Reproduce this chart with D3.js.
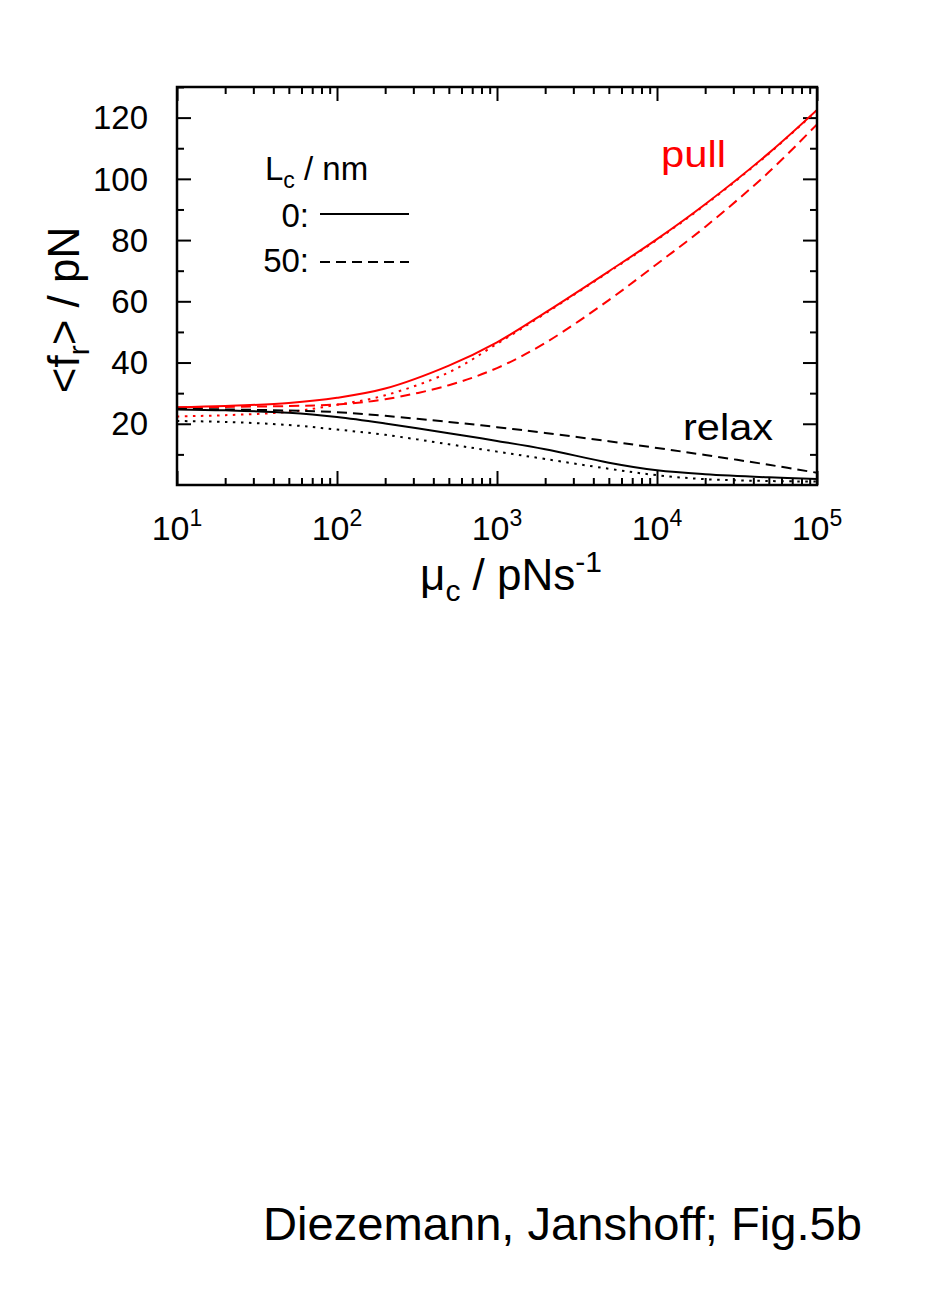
<!DOCTYPE html>
<html>
<head>
<meta charset="utf-8">
<script src="https://cdn.jsdelivr.net/npm/d3@7"></script>
<style>
  html, body { margin: 0; padding: 0; background: #fff; }
  svg { display: block; font-family: "Liberation Sans", Arial, Helvetica, sans-serif; }
</style>
</head>
<body>
<svg id="chart" width="927" height="1311"></svg>
<script>
// ---- data ----
const mu = [10, 20, 50, 100, 200, 500, 1000, 2000, 5000, 10000, 20000, 50000, 100000];
const pullL0     = [25.4, 25.8, 26.8, 28.5, 31.5, 39.0, 46.6, 56.3, 69.8, 80.3, 91.7, 108.4, 122.5];
const pullL50    = [25.3, 25.5, 25.8, 26.3, 28.0, 32.6, 38.2, 46.4, 60.4, 72.2, 84.3, 102.2, 117.8];
const pullDotted = [22.4, 22.8, 23.9, 26.2, 29.3, 36.8, 46.1, 56.0, 69.6, 80.1, 91.5, 108.2, 122.4];
const relaxL0     = [24.7, 24.4, 23.6, 22.2, 20.1, 16.9, 14.4, 11.7, 7.3, 4.8, 3.5, 2.5, 2.0];
const relaxL50    = [24.9, 24.7, 24.3, 23.8, 22.6, 20.6, 18.9, 17.0, 14.3, 12.1, 9.8, 6.6, 4.0];
const relaxDotted = [20.9, 20.6, 19.6, 18.1, 16.4, 13.3, 10.9, 8.5, 5.3, 3.2, 1.9, 1.3, 1.1];
const xMajorTicks = [10, 100, 1000, 10000, 100000];
const xTickExponents = ["1", "2", "3", "4", "5"];
const yMajorTicks = [20, 40, 60, 80, 100, 120];
const yMinorTicks = [10, 30, 50, 70, 90, 110, 130];
const legendTitle = "L";
const legendEntries = ["0:", "50:"];

// ---- layout ----
const pL = 177, pR = 817, pT = 87, pB = 485;
const svg = d3.select("#chart");
const x = d3.scaleLog().domain([10, 100000]).range([pL, pR]);
const y = d3.scaleLinear().domain([0, 130]).range([pB, pT]);

const xMinor = [];
for (let d = 10; d < 100000; d *= 10) for (let k = 2; k <= 9; k++) xMinor.push(d * k);

const MAJ = 14, MIN = 7;
function styleAxis(g) {
  g.select(".domain").remove();
  g.selectAll("line").attr("stroke", "#000").attr("stroke-width", 2);
  g.selectAll("text").remove();
}
// bottom
svg.append("g").attr("transform", `translate(0,${pB})`)
  .call(d3.axisBottom(x).tickValues(xMajorTicks).tickSize(-MAJ).tickFormat("")).call(styleAxis);
svg.append("g").attr("transform", `translate(0,${pB})`)
  .call(d3.axisBottom(x).tickValues(xMinor).tickSize(-MIN).tickFormat("")).call(styleAxis);
// top
svg.append("g").attr("transform", `translate(0,${pT})`)
  .call(d3.axisTop(x).tickValues(xMajorTicks).tickSize(-MAJ).tickFormat("")).call(styleAxis);
svg.append("g").attr("transform", `translate(0,${pT})`)
  .call(d3.axisTop(x).tickValues(xMinor).tickSize(-MIN).tickFormat("")).call(styleAxis);
// left
svg.append("g").attr("transform", `translate(${pL},0)`)
  .call(d3.axisLeft(y).tickValues(yMajorTicks).tickSize(-MAJ).tickFormat("")).call(styleAxis);
svg.append("g").attr("transform", `translate(${pL},0)`)
  .call(d3.axisLeft(y).tickValues(yMinorTicks).tickSize(-MIN).tickFormat("")).call(styleAxis);
// right
svg.append("g").attr("transform", `translate(${pR},0)`)
  .call(d3.axisRight(y).tickValues(yMajorTicks).tickSize(-MAJ).tickFormat("")).call(styleAxis);
svg.append("g").attr("transform", `translate(${pR},0)`)
  .call(d3.axisRight(y).tickValues(yMinorTicks).tickSize(-MIN).tickFormat("")).call(styleAxis);

// curves
const line = d3.line().x(d => x(d[0])).y(d => y(d[1])).curve(d3.curveCatmullRom.alpha(0.5));
const series = [
  { v: pullL0, c: "#ff0000", dash: null },
  { v: pullL50, c: "#ff0000", dash: "10,6" },
  { v: pullDotted, c: "#ff0000", dash: "2.5,5.5" },
  { v: relaxL0, c: "#000", dash: null },
  { v: relaxL50, c: "#000", dash: "10,6" },
  { v: relaxDotted, c: "#000", dash: "2.5,5.5" }
];
svg.append("clipPath").attr("id", "clip").append("rect")
  .attr("x", pL).attr("y", pT).attr("width", pR - pL).attr("height", pB - pT);
const curves = svg.append("g").attr("clip-path", "url(#clip)");
series.forEach(s => {
  curves.append("path")
    .attr("d", line(mu.map((m, i) => [m, s.v[i]])))
    .attr("fill", "none").attr("stroke", s.c).attr("stroke-width", 2)
    .attr("stroke-dasharray", s.dash);
});

// frame
svg.append("rect").attr("x", pL).attr("y", pT).attr("width", pR - pL).attr("height", pB - pT)
  .attr("fill", "none").attr("stroke", "#000").attr("stroke-width", 2.5);

// y tick labels
svg.append("g").selectAll("text").data(yMajorTicks).join("text")
  .attr("x", 148).attr("y", d => y(d) + 11.7).attr("text-anchor", "end")
  .attr("font-size", 33).text(d => d);

// x tick labels
const xl = svg.append("g").selectAll("text").data(xMajorTicks).join("text")
  .attr("x", d => x(d)).attr("y", 540).attr("text-anchor", "middle").attr("font-size", 34);
xl.append("tspan").text("10");
xl.append("tspan").attr("dy", -14).attr("font-size", 23).text((d, i) => xTickExponents[i]);

// x axis title
const xt = svg.append("text").attr("x", 511).attr("y", 590).attr("text-anchor", "middle").attr("font-size", 44);
xt.append("tspan").text("μ");
xt.append("tspan").attr("dy", 11).attr("font-size", 30).text("c");
xt.append("tspan").attr("dy", -11).text(" / pNs");
xt.append("tspan").attr("dy", -18).attr("font-size", 30).text("-1");

// y axis title
const yt = svg.append("text").attr("transform", "translate(79,310) rotate(-90)")
  .attr("text-anchor", "middle").attr("font-size", 44);
yt.append("tspan").text("<f");
yt.append("tspan").attr("dy", 10).attr("font-size", 30).text("r");
yt.append("tspan").attr("dy", -10).text("> / pN");

// legend
const lt = svg.append("text").attr("x", 265).attr("y", 180).attr("font-size", 33);
lt.append("tspan").text(legendTitle);
lt.append("tspan").attr("dy", 8).attr("font-size", 23).text("c");
lt.append("tspan").attr("dy", -8).text(" / nm");
const legY = [227, 272];
const legLineY = [214, 262];
const legDash = [null, "10,6"];
legendEntries.forEach((t, i) => {
  svg.append("text").attr("x", 309).attr("y", legY[i]).attr("text-anchor", "end").attr("font-size", 33).text(t);
  svg.append("line").attr("x1", 320).attr("x2", 409).attr("y1", legLineY[i]).attr("y2", legLineY[i])
    .attr("stroke", "#000").attr("stroke-width", 2).attr("stroke-dasharray", legDash[i]);
});

// curve labels
svg.append("text").attr("x", 661).attr("y", 167).attr("font-size", 37).attr("fill", "#ff0000")
  .attr("textLength", 65).attr("lengthAdjust", "spacingAndGlyphs").text("pull");
svg.append("text").attr("x", 683).attr("y", 440).attr("font-size", 36).attr("fill", "#000")
  .attr("textLength", 90).attr("lengthAdjust", "spacingAndGlyphs").text("relax");

// footer
svg.append("text").attr("x", 263).attr("y", 1240).attr("font-size", 46)
  .attr("textLength", 599).attr("lengthAdjust", "spacingAndGlyphs").text("Diezemann, Janshoff; Fig.5b");
</script>
</body>
</html>
